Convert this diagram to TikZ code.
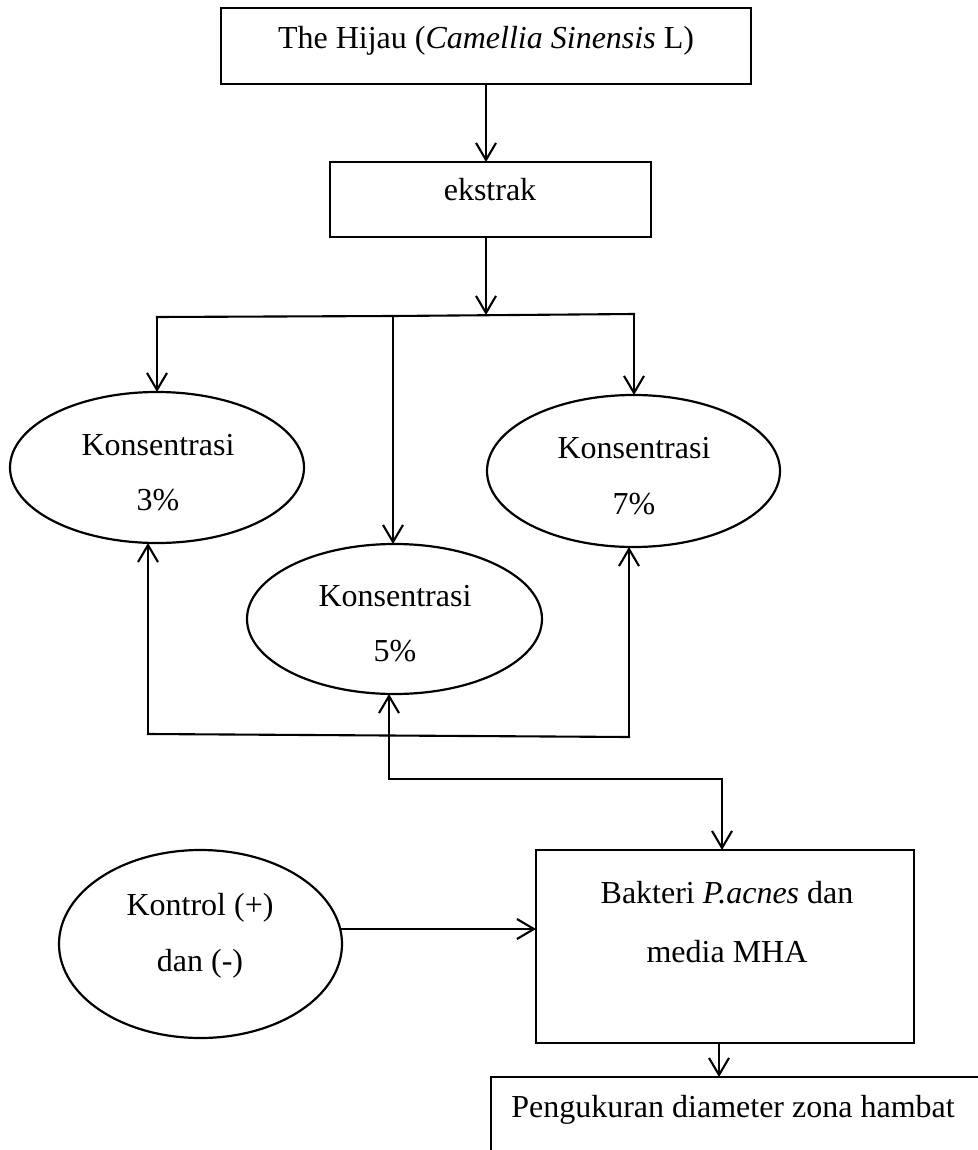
\documentclass[tikz,border=0pt]{standalone}
\usepackage{fontspec}
\setmainfont{Liberation Serif}
\usetikzlibrary{shapes.geometric,arrows.meta}
\begin{document}
\begin{tikzpicture}[x=1pt,y=-1pt,
  ell/.style={draw,ellipse,line width=2.2pt,inner sep=0pt,outer sep=0pt},
  rbox/.style={draw,rectangle,line width=2.8pt,inner sep=0pt,outer sep=0pt},
  txt/.style={anchor=base,inner sep=0pt,font=\fontsize{32}{38}\selectfont},
  conn/.style={line width=2.1pt,line cap=rect},
  arr/.style={line width=2.1pt,-{Straight Barb[length=17pt,width=20pt]}}
]
\useasboundingbox (0,0) rectangle (977,1150);
\fill[white] (0,0) rectangle (977,1150);

% boxes and ellipses
\node[rbox,minimum width=530pt,minimum height=76pt] (top) at (486,46) {};
\node[txt] (topt) at (486,49) {The Hijau (\textit{Camellia Sinensis} L)};
\node[rbox,minimum width=321pt,minimum height=75pt] (ext) at (490.5,199.5) {};
\node[txt] (extt) at (490,201) {ekstrak};

\node[ell,minimum width=294pt,minimum height=151pt] (e3) at (157,467.5) {};
\node[txt] (e3a) at (158,455) {Konsentrasi};
\node[txt] (e3b) at (158,510) {3\%};

\node[ell,minimum width=293pt,minimum height=152pt] (e7) at (633.5,471) {};
\node[txt] (e7a) at (634,458) {Konsentrasi};
\node[txt] (e7b) at (634,514) {7\%};

\node[ell,minimum width=295pt,minimum height=150pt] (e5) at (394.5,619) {};
\node[txt] (e5a) at (395,606) {Konsentrasi};
\node[txt] (e5b) at (395,661) {5\%};

\node[ell,minimum width=283pt,minimum height=188pt] (ko) at (200.5,944) {};
\node[txt] (koa) at (200,915) {Kontrol (+)};
\node[txt] (kob) at (200,971) {dan (-)};

\node[rbox,minimum width=378pt,minimum height=193pt] (bak) at (725,946.5) {};
\node[txt] (baka) at (727,903) {Bakteri \textit{P.acnes} dan};
\node[txt] (bakb) at (727,962) {media MHA};

\node[rbox,minimum width=540pt,minimum height=160pt] (pen) at (761,1157) {};
\node[txt] (pent) at (733,1117) {Pengukuran diameter zona hambat};

% connectors
\draw[arr] (top.south) -- (top.south |- ext.north);
\coordinate (jt) at (486,315);
\draw[arr] (ext.south -| jt) -- (jt);
\coordinate (jl) at (157,317);
\coordinate (jm) at (393,316);
\coordinate (jr) at (634,314);
\draw[conn] (jl) -- (jm) -- (jr);
\draw[arr] (jl) -- (e3.north);
\draw[arr] (jm) -- (jm |- e5.north);
\draw[arr] (jr) -- (jr |- e7.north);

\coordinate (bl) at (148,734);
\coordinate (br) at (629,737);
\draw[conn] (bl) -- (br);
\draw[arr] (bl) -- (bl |- e3.south);
\draw[arr] (br) -- (br |- e7.south);

\coordinate (ml) at (389,779);
\coordinate (mr) at (722,779);
\draw[conn] (ml) -- (mr);
\draw[arr] (ml) -- (ml |- e5.south);
\draw[arr] (mr) -- (mr |- bak.north);

\coordinate (kx) at (341,929);
\draw[arr] (kx) -- (kx -| bak.west);
\coordinate (bx) at (719,1043);
\draw[arr] (bx) -- (bx |- pen.north);
\end{tikzpicture}
\end{document}
